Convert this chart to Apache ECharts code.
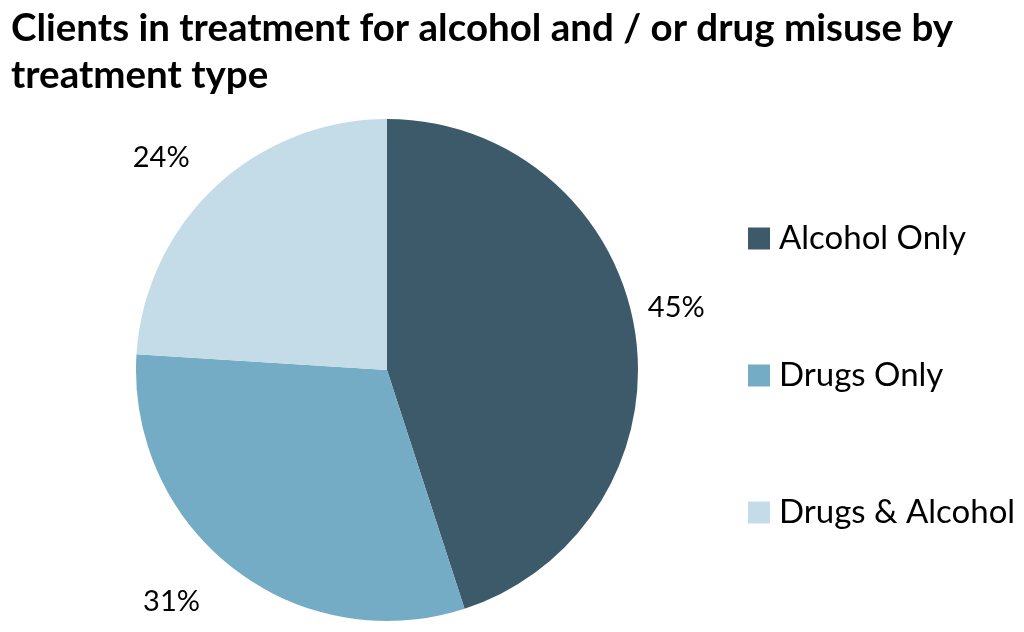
<!DOCTYPE html>
<html>
<head>
<meta charset="utf-8">
<script src="https://cdn.jsdelivr.net/npm/echarts@6/dist/echarts.min.js"></script>
<style>html,body{margin:0;padding:0;background:#fff;}#c{width:1024px;height:632px;}</style>
</head>
<body>
<div id="c"></div>
<script>
const titleText = 'Clients in treatment for alcohol and / or drug misuse by\ntreatment type';
const categories = ['Alcohol Only', 'Drugs Only', 'Drugs & Alcohol'];
const values = [45, 31, 24];
const colors = ['#3d5a6b', '#74acc6', '#c4dce7'];
const labelLineLengths = [8, 46, 30];
const labelShiftY = [-22, -3, -8];

const chart = echarts.init(document.getElementById('c'));
const FONT = 'Lato, "Open Sans", sans-serif';
chart.setOption({
  animation: false,
  backgroundColor: '#fff',
  title: {
    text: titleText,
    left: 6, top: 0,
    textStyle: { fontFamily: FONT, fontSize: 38.5, fontWeight: 'bold', color: '#000', lineHeight: 47 }
  },
  legend: {
    orient: 'vertical',
    left: 743, top: 217,
    itemWidth: 22, itemHeight: 22, itemGap: 104,
    icon: 'rect',
    textStyle: { fontFamily: FONT, fontSize: 33, color: '#000', padding: [0, 0, 0, 4] },
    data: categories
  },
  series: [{
    type: 'pie',
    center: [387, 370],
    radius: 251,
    startAngle: 90,
    clockwise: true,
    emphasis: { disabled: true },
    label: {
      show: true, position: 'outside', formatter: '{c}%',
      fontFamily: FONT, fontSize: 29, color: '#000'
    },
    labelLine: { show: false, length: 20, length2: 0 },
    labelLayout: (p) => ({ dy: labelShiftY[p.dataIndex] }),
    data: categories.map((n, i) => ({
      name: n, value: values[i],
      itemStyle: { color: colors[i] },
      labelLine: { show: false, length: labelLineLengths[i], length2: 0 }
    }))
  }]
});
</script>
</body>
</html>
